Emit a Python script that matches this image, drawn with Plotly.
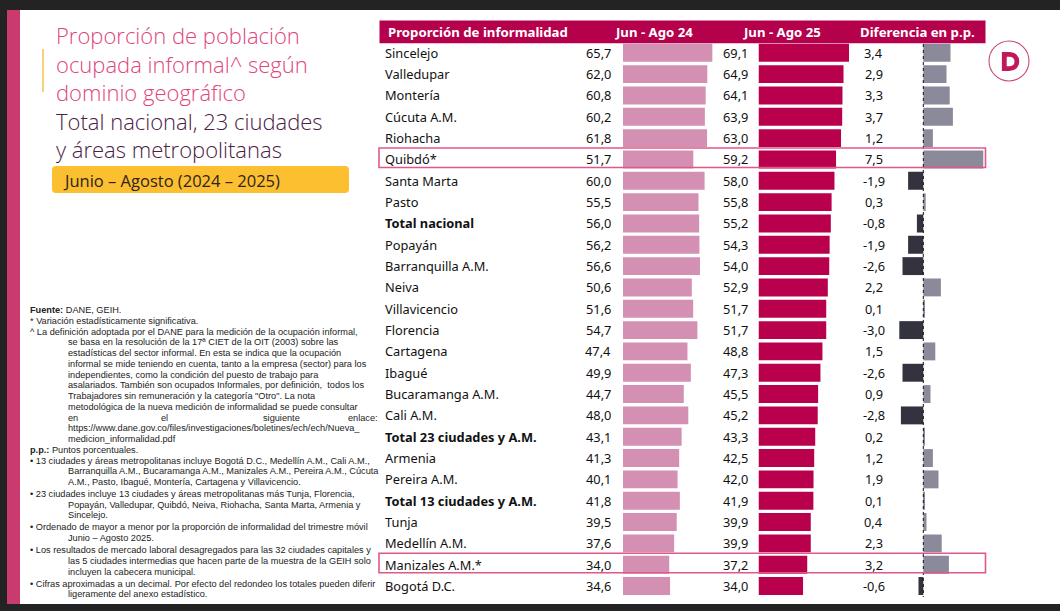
import plotly.graph_objects as go

# ---------------- data ----------------
categories = ["Sincelejo", "Valledupar", "Montería", "Cúcuta A.M.", "Riohacha", "Quibdó*",
              "Santa Marta", "Pasto", "Total nacional", "Popayán", "Barranquilla A.M.", "Neiva",
              "Villavicencio", "Florencia", "Cartagena", "Ibagué", "Bucaramanga A.M.", "Cali A.M.",
              "Total 23 ciudades y A.M.", "Armenia", "Pereira A.M.", "Total 13 ciudades y A.M.",
              "Tunja", "Medellín A.M.", "Manizales A.M.*", "Bogotá D.C."]
jun_ago_24 = [65.7, 62.0, 60.8, 60.2, 61.8, 51.7, 60.0, 55.5, 56.0, 56.2, 56.6, 50.6, 51.6,
              54.7, 47.4, 49.9, 44.7, 48.0, 43.1, 41.3, 40.1, 41.8, 39.5, 37.6, 34.0, 34.6]
jun_ago_25 = [69.1, 64.9, 64.1, 63.9, 63.0, 59.2, 58.0, 55.8, 55.2, 54.3, 54.0, 52.9, 51.7,
              51.7, 48.8, 47.3, 45.5, 45.2, 43.3, 42.5, 42.0, 41.9, 39.9, 39.9, 37.2, 34.0]
diferencia = [3.4, 2.9, 3.3, 3.7, 1.2, 7.5, -1.9, 0.3, -0.8, -1.9, -2.6, 2.2, 0.1,
              -3.0, 1.5, -2.6, 0.9, -2.8, 0.2, 1.2, 1.9, 0.1, 0.4, 2.3, 3.2, -0.6]
bold_rows = ["Total nacional", "Total 23 ciudades y A.M.", "Total 13 ciudades y A.M."]
highlight_rows = ["Quibdó*", "Manizales A.M.*"]
headers = ["Proporción de informalidad", "Jun - Ago 24", "Jun - Ago 25", "Diferencia en p.p."]

title_lines = ["Proporción de población", "ocupada informal^ según", "dominio geográfico"]
subtitle_lines = ["Total nacional, 23 ciudades", "y áreas metropolitanas"]
period_label = "Junio – Agosto (2024 – 2025)"

notes = [
    (0, "<b>Fuente:</b> DANE, GEIH."),
    (0, "* Variación estadísticamente significativa."),
    (0, "^ La definición adoptada por el DANE para la medición de la ocupación informal,"),
    (1, "se basa en la resolución de la 17ª CIET de la OIT (2003) sobre las"),
    (1, "estadísticas del sector informal. En esta se indica que la ocupación"),
    (1, "informal se mide teniendo en cuenta, tanto a la empresa (sector) para los"),
    (1, "independientes, como la condición del puesto de trabajo para"),
    (1, "asalariados. También son ocupados Informales, por definición,  todos los"),
    (1, "Trabajadores sin remuneración y la categoría \"Otro\". La nota"),
    (1, "metodológica de la nueva medición de informalidad se puede consultar"),
    (2, "en|el|siguiente|enlace:"),
    (1, "https://www.dane.gov.co/files/investigaciones/boletines/ech/ech/Nueva_"),
    (1, "medicion_informalidad.pdf"),
    (0, "<b>p.p.:</b> Puntos porcentuales."),
    (0, "• 13 ciudades y áreas metropolitanas incluye Bogotá D.C., Medellín A.M., Cali A.M.,"),
    (1, "Barranquilla A.M., Bucaramanga A.M., Manizales A.M., Pereira A.M., Cúcuta"),
    (1, "A.M., Pasto, Ibagué, Montería, Cartagena y Villavicencio."),
    (0, "• 23 ciudades incluye 13 ciudades y áreas metropolitanas más Tunja, Florencia,"),
    (1, "Popayán, Valledupar, Quibdó, Neiva, Riohacha, Santa Marta, Armenia y"),
    (1, "Sincelejo."),
    (0, "• Ordenado de mayor a menor por la proporción de informalidad del trimestre móvil"),
    (1, "Junio – Agosto 2025."),
    (0, "• Los resultados de mercado laboral desagregados para las 32 ciudades capitales y"),
    (1, "las 5 ciudades intermedias que hacen parte de la muestra de la GEIH solo"),
    (1, "incluyen la cabecera municipal."),
    (0, "• Cifras aproximadas a un decimal. Por efecto del redondeo los totales pueden diferir"),
    (1, "ligeramente del anexo estadístico."),
]

# ---------------- style ----------------
W, H = 1060, 611
FONT = "Noto Sans"
NOTE_FONT = "Liberation Sans"
NOTE_SIZE = 9.2
C_HEAD = "#b5004b"
C_24 = "#d490b2"
C_25 = "#b8004c"
C_POS = "#8b8a9b"
C_NEG = "#33323f"
C_PINK = "#e0457b"
C_PLUM = "#4a2044"
C_DARK = "#232323"


def fmt(v):
    return f"{v:.1f}".replace(".", ",")


def lbl(c):
    return f"<b>{c}</b>" if c in bold_rows else c


fig = go.Figure()
bw = 0.84
fig.add_trace(go.Bar(y=categories, x=jun_ago_24, orientation="h", xaxis="x", yaxis="y",
                     marker=dict(color=C_24, line=dict(width=0)), width=bw, hoverinfo="skip"))
fig.add_trace(go.Bar(y=categories, x=jun_ago_25, orientation="h", xaxis="x2", yaxis="y",
                     marker=dict(color=C_25, line=dict(width=0)), width=bw, hoverinfo="skip"))
fig.add_trace(go.Bar(y=categories, x=diferencia, orientation="h", xaxis="x3", yaxis="y",
                     marker=dict(color=[C_POS if d >= 0 else C_NEG for d in diferencia], line=dict(width=0)),
                     width=bw, hoverinfo="skip"))
fig.add_trace(go.Scatter(x=[], y=[], xaxis="x4", yaxis="y4", hoverinfo="skip"))

# row geometry (pixels)
row0, row_h = 52.8, 21.33
n = len(categories)
y_top = row0 - row_h / 2
y_bot = row0 + (n - 0.5) * row_h
ydom = [1 - y_bot / H, 1 - y_top / H]

hid = dict(visible=False, showgrid=False, zeroline=False, fixedrange=True)
fig.update_layout(
    width=W, height=H, margin=dict(l=0, r=0, t=0, b=0),
    paper_bgcolor="white", plot_bgcolor="rgba(0,0,0,0)", showlegend=False,
    xaxis=dict(domain=[623 / W, 720 / W], range=[0, 97 / 1.36], anchor="y", **hid),
    xaxis2=dict(domain=[758.5 / W, 860 / W], range=[0, 101.5 / 1.31], anchor="y", **hid),
    xaxis3=dict(domain=[890 / W, 990 / W], range=[-33.3 / 8.0, 66.7 / 8.0], anchor="y", **hid),
    yaxis=dict(domain=ydom, type="category", categoryorder="array", categoryarray=categories,
               range=[n - 0.5, -0.5], anchor="x", **hid),
    xaxis4=dict(domain=[0, 1], range=[0, W], anchor="y4", **hid),
    yaxis4=dict(domain=[0, 1], range=[H, 0], anchor="x4", **hid),
)

shapes = []
ann = []


def rect(x0, y0, x1, y1, color, layer="below"):
    shapes.append(dict(type="rect", xref="x4", yref="y4", x0=x0, y0=y0, x1=x1, y1=y1,
                       fillcolor=color, line=dict(width=0), layer=layer))


# frame
rect(0, 0, W, 10, C_DARK)
rect(0, 604, W, H, C_DARK)
rect(0, 0, 7, H, C_DARK)
rect(7, 10, 20, 604, "#c93a6e")

# yellow accent line
shapes.append(dict(type="line", xref="x4", yref="y4", x0=43, x1=43, y0=49, y1=92,
                   line=dict(color="#f3c34a", width=1.5)))

# title (one text block, two colours)
title_html = "<br>".join(
    [f"<span style='color:{C_PINK}'>{t}</span>" for t in title_lines]
    + [f"<span style='color:{C_PLUM}'>{t}</span>" for t in subtitle_lines])
ann.append(dict(xref="x4", yref="y4", x=55, y=91.5, text=title_html, showarrow=False,
                xanchor="left", yanchor="middle", align="left", borderpad=0,
                font=dict(family="Open Sans", size=22, color=C_PINK, weight=300)))

# period box (rounded)
x0, y0, x1, y1, r = 52, 166, 349, 193, 4
path = (f"M {x0+r},{y0} L {x1-r},{y0} Q {x1},{y0} {x1},{y0+r} L {x1},{y1-r} Q {x1},{y1} {x1-r},{y1} "
        f"L {x0+r},{y1} Q {x0},{y1} {x0},{y1-r} L {x0},{y0+r} Q {x0},{y0} {x0+r},{y0} Z")
shapes.append(dict(type="path", xref="x4", yref="y4", path=path, fillcolor="#fbbf2f",
                   line=dict(width=0), layer="below"))
ann.append(dict(xref="x4", yref="y4", x=61, y=180, text=period_label, showarrow=False,
                xanchor="left", yanchor="middle",
                font=dict(family="Open Sans", size=16.5, color="#2e2320")))

# footnotes
ny = 310
bullets_seen = 0
for lvl, t in notes:
    if t.startswith("•"):
        bullets_seen += 1
        if bullets_seen > 1:
            ny += 1.2
    if lvl == 2:
        words = t.split("|")
        xs = [67, 160, 262, 379]
        anchors = ["left", "left", "left", "right"]
        for wtxt, xx, aa in zip(words, xs, anchors):
            ann.append(dict(xref="x4", yref="y4", x=xx, y=ny, text=wtxt, showarrow=False,
                            xanchor=aa, yanchor="middle", borderpad=0,
                            font=dict(family=NOTE_FONT, size=NOTE_SIZE, color="#222222")))
    else:
        ann.append(dict(xref="x4", yref="y4", x=29 if lvl == 0 else 67, y=ny, text=t,
                        showarrow=False, xanchor="left", yanchor="middle", borderpad=0,
                        font=dict(family=NOTE_FONT, size=NOTE_SIZE, color="#222222")))
    ny += 10.75

# header
rect(379.5, 20.5, 985.5, 43.3, C_HEAD)
hx = [(386, "left"), (654, "center"), (782, "center"), (917.5, "center")]
for (xx, aa), t in zip(hx, headers):
    ann.append(dict(xref="x4", yref="y4", x=xx, y=32, text=f"<b>{t}</b>", showarrow=False,
                    xanchor=aa, yanchor="middle",
                    font=dict(family=FONT, size=13.2, color="white")))

# rows
for i, c in enumerate(categories):
    ann.append(dict(xref="x4", yref="y", x=383, y=c, text=lbl(c), showarrow=False,
                    xanchor="left", yanchor="middle", font=dict(family=FONT, size=12.8, color="#111111")))
    ann.append(dict(xref="x4", yref="y", x=613, y=c, text=fmt(jun_ago_24[i]), showarrow=False,
                    xanchor="right", yanchor="middle", font=dict(family=FONT, size=12.8, color="#111111")))
    ann.append(dict(xref="x4", yref="y", x=721, y=c, text=fmt(jun_ago_25[i]), showarrow=False,
                    xanchor="left", yanchor="middle", font=dict(family=FONT, size=12.8, color="#111111")))
    ann.append(dict(xref="x4", yref="y", x=873.5, y=c, text=fmt(diferencia[i]), showarrow=False,
                    xanchor="center", yanchor="middle", font=dict(family=FONT, size=12.8, color="#111111")))

# zero line of differences
shapes.append(dict(type="line", xref="x3", yref="y4", x0=0, x1=0, y0=44, y1=597,
                   line=dict(color="#111111", width=1, dash="dot"), layer="above"))

# highlight boxes
for c in highlight_rows:
    idx = categories.index(c)
    shapes.append(dict(type="rect", xref="x4", yref="y", x0=379, x1=985.5,
                       y0=idx - 11.5 / row_h, y1=idx + 8 / row_h,
                       line=dict(color="#e0588a", width=1.6), fillcolor="rgba(0,0,0,0)", layer="above"))

# logo
shapes.append(dict(type="circle", xref="x4", yref="y4", x0=989, x1=1029, y0=41, y1=81,
                   line=dict(color="#c8487a", width=1.1), fillcolor="white", layer="above"))
dpath = ("M 1004.3,68.6 L 1004.3,54.4 L 1009,54.4 C 1014.3,54.4 1016.9,57.6 1016.9,61.5 "
         "C 1016.9,65.4 1014.3,68.6 1009,68.6 Z")
shapes.append(dict(type="path", xref="x4", yref="y4", path=dpath, fillcolor="rgba(0,0,0,0)",
                   line=dict(width=4.8, color="#c0185a"), layer="above"))

fig.update_layout(shapes=shapes, annotations=ann)
fig.write_html("out.html", config={"displayModeBar": False},
               post_script="document.body.style.margin='0px';")
